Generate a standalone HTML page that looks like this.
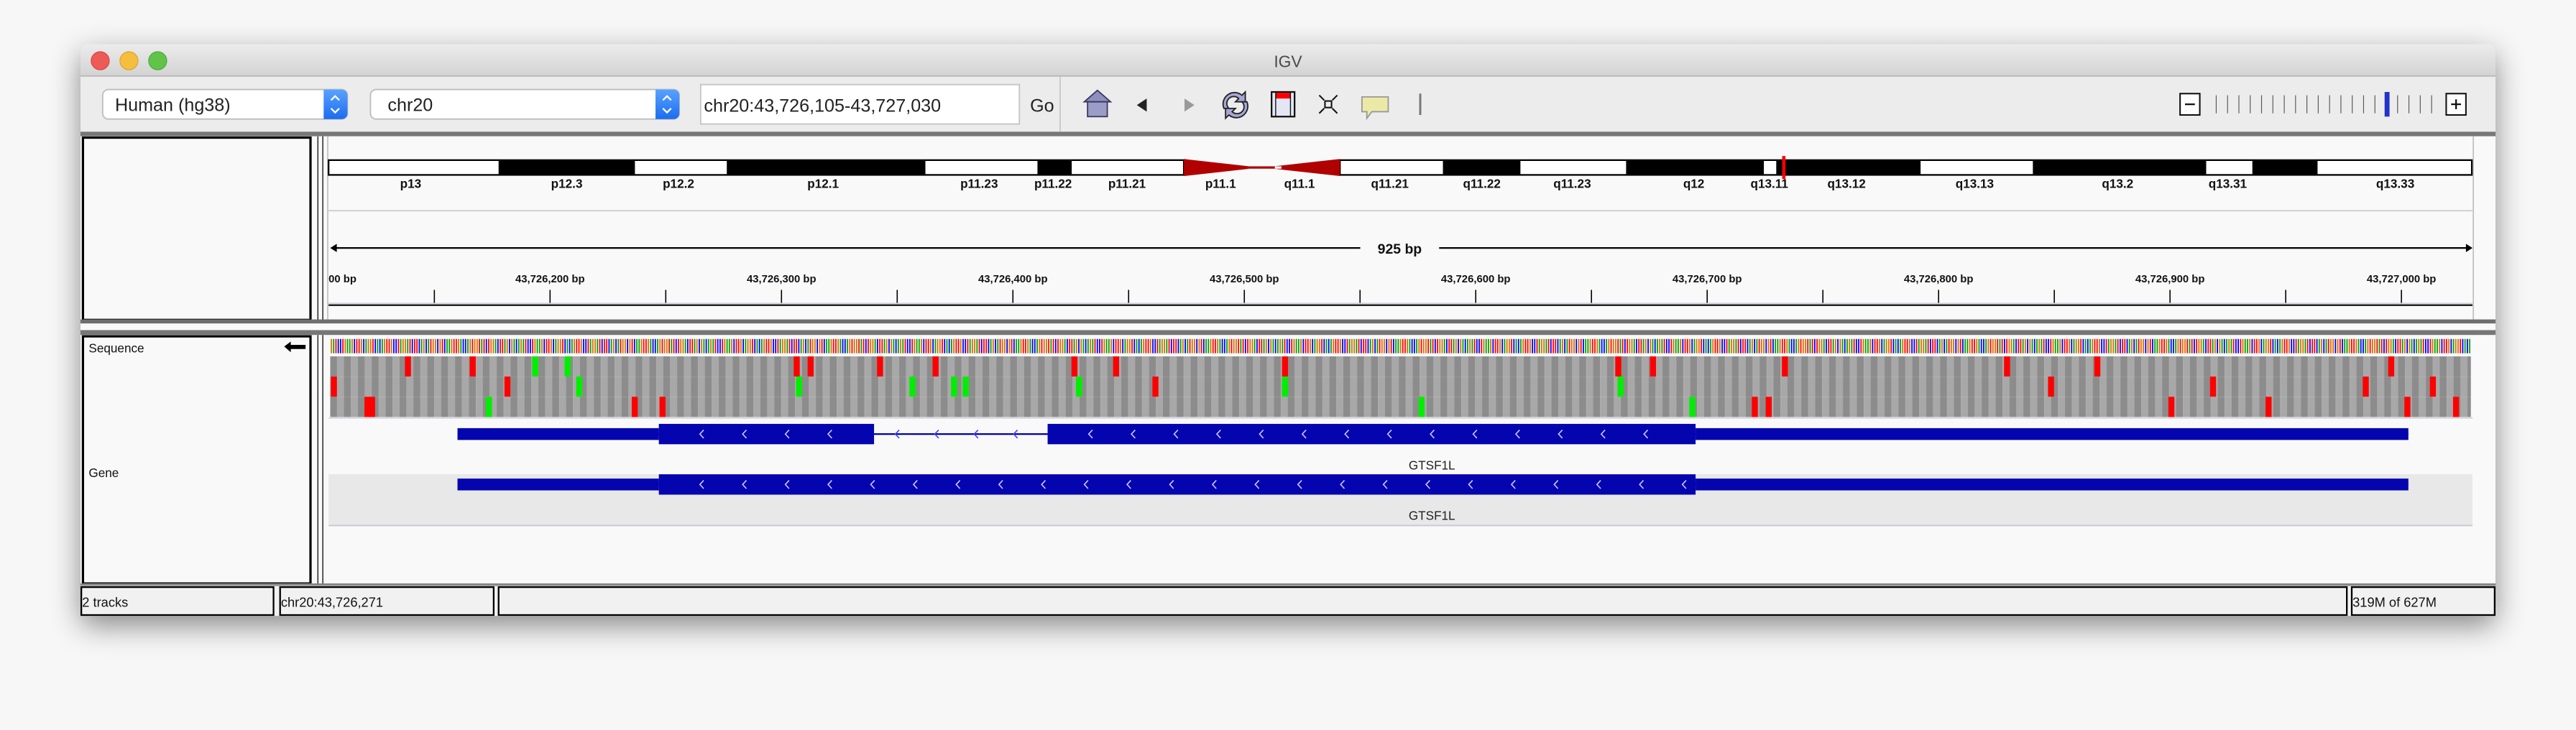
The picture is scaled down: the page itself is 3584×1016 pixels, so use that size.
<!DOCTYPE html>
<html><head><meta charset="utf-8"><style>
html,body{margin:0;padding:0;background:#f7f7f7;overflow:hidden}
svg{display:block}
text{font-family:"Liberation Sans",sans-serif}
</style></head><body>
<svg id="root" width="3584" height="1016" viewBox="0 0 1568 444.5" preserveAspectRatio="none" xmlns="http://www.w3.org/2000/svg">
<defs>
<filter id="sh" x="-10%" y="-20%" width="120%" height="150%"><feDropShadow dx="0" dy="6" stdDeviation="9" flood-color="#000" flood-opacity="0.45"/></filter>
<linearGradient id="tb" x1="0" y1="0" x2="0" y2="1"><stop offset="0" stop-color="#ececec"/><stop offset="1" stop-color="#d3d3d3"/></linearGradient>
<linearGradient id="bl" x1="0" y1="0" x2="0" y2="1"><stop offset="0" stop-color="#5aa2ff"/><stop offset="1" stop-color="#1b6df0"/></linearGradient>
<pattern id="stripes" x="201" y="0" width="8.448" height="10" patternUnits="userSpaceOnUse"><rect width="4.224" height="10" fill="#8c8c8c"/><rect x="4.224" width="4.224" height="10" fill="#a8a8a8"/></pattern>
</defs>
<rect x="49" y="27" width="1470" height="348" rx="5" fill="#ececec" filter="url(#sh)"/>
<g>
<path d="M49 46 V32 a5 5 0 0 1 5 -5 H1514 a5 5 0 0 1 5 5 V46 Z" fill="url(#tb)"/>
<line x1="49" y1="46.3" x2="1519" y2="46.3" stroke="#b4b4b4" stroke-width="0.8"/>
<circle cx="61" cy="37" r="5.5" fill="#ee5b56" stroke="#d8463f" stroke-width="0.5"/>
<circle cx="78.5" cy="37" r="5.5" fill="#f5be3e" stroke="#dca12f" stroke-width="0.5"/>
<circle cx="96" cy="37" r="5.5" fill="#60c449" stroke="#4ba93a" stroke-width="0.5"/>
<text x="784" y="41" font-size="10" fill="#4a4a4a" text-anchor="middle">IGV</text>
</g>
<g>
<rect x="49" y="46.7" width="1470" height="33.5" fill="#ececec"/>
<g>
<rect x="62.5" y="54.5" width="149" height="18" rx="3.5" fill="#fff" stroke="#bdbdbd" stroke-width="0.8"/>
<path d="M197 54.5 h11 a3.5 3.5 0 0 1 3.5 3.5 v11 a3.5 3.5 0 0 1 -3.5 3.5 h-11 Z" fill="url(#bl)"/>
<path d="M201.5 61 l2.5 -2.5 l2.5 2.5 M201.5 66 l2.5 2.5 l2.5 -2.5" fill="none" stroke="#fff" stroke-width="1"/>
<text x="70" y="67.5" font-size="11" fill="#222">Human (hg38)</text></g>
<g>
<rect x="225.5" y="54.5" width="188" height="18" rx="3.5" fill="#fff" stroke="#bdbdbd" stroke-width="0.8"/>
<path d="M399 54.5 h11 a3.5 3.5 0 0 1 3.5 3.5 v11 a3.5 3.5 0 0 1 -3.5 3.5 h-11 Z" fill="url(#bl)"/>
<path d="M403.5 61 l2.5 -2.5 l2.5 2.5 M403.5 66 l2.5 2.5 l2.5 -2.5" fill="none" stroke="#fff" stroke-width="1"/>
<text x="236" y="67.5" font-size="11" fill="#222">chr20</text></g>
<g>
<rect x="426.5" y="51.5" width="194" height="24" fill="#fff" stroke="#c4c4c4" stroke-width="0.8"/>
<text x="428.5" y="68" font-size="11" fill="#222">chr20:43,726,105-43,727,030</text></g>
<text x="627" y="68" font-size="11" fill="#222">Go</text>
<line x1="645.3" y1="46.7" x2="645.3" y2="80" stroke="#c8c8c8" stroke-width="0.8"/>
<g><path d="M660 62 L668 55 L676 62 Z" fill="#8f8fbf" stroke="#3a3a5e" stroke-width="0.8"/><rect x="662" y="62" width="12" height="9" fill="#9c9cc8" stroke="#3a3a5e" stroke-width="0.8"/></g>
<path d="M692 64 l6 -4 v8 Z" fill="#222"/>
<path d="M727 64 l-6 -4 v8 Z" fill="#999"/>
<g><path d="M745 66 a7 7 0 0 1 11 -8 l2 -2 v6 h-6 l2 -2 a4 4 0 0 0 -6 6 Z M759 62 a7 7 0 0 1 -11 8 l-2 2 v-6 h6 l-2 2 a4 4 0 0 0 6 -6 Z" fill="#a6a6d8" stroke="#222" stroke-width="0.8"/></g>
<g><rect x="774" y="56" width="14" height="15" fill="#e4e6f6" stroke="#111" stroke-width="1"/><rect x="776.5" y="56.5" width="9" height="3.5" fill="#f00"/><line x1="776.5" y1="56" x2="776.5" y2="71" stroke="#111" stroke-width="0.6"/><line x1="785.5" y1="56" x2="785.5" y2="71" stroke="#111" stroke-width="0.6"/></g>
<g stroke="#111" stroke-width="0.9" fill="none"><rect x="806.5" y="61.5" width="4" height="4"/><path d="M803 58 l3 3 M814 58 l-3 3 M803 69 l3 -3 M814 69 l-3 -3"/></g>
<path d="M829 59 h16 v9 h-10 l-3 4 v-4 h-3 Z" fill="#ece9a6" stroke="#999" stroke-width="0.8"/>
<line x1="864.5" y1="57" x2="864.5" y2="70" stroke="#777" stroke-width="1.3"/>
<g id="zoomw">
<rect x="1327" y="57" width="12" height="13" fill="#fff" stroke="#111" stroke-width="0.9"/><line x1="1330" y1="63.5" x2="1336" y2="63.5" stroke="#111"/>
<rect x="1489" y="57" width="12" height="13" fill="#fff" stroke="#111" stroke-width="0.9"/><path d="M1492 63.5 h6 M1495 60.5 v6" stroke="#111"/>
</g>
</g>
<rect x="49" y="80.2" width="1470" height="2.8" fill="#777"/>
<rect x="49" y="83" width="1470" height="112" fill="#f9f9f9"/>
<rect x="50.5" y="83.8" width="138.5" height="111" fill="#f9f9f9" stroke="#000" stroke-width="1.4"/>
<line x1="193.5" y1="83" x2="193.5" y2="195" stroke="#333" stroke-width="0.7"/>
<line x1="196.5" y1="83" x2="196.5" y2="195" stroke="#333" stroke-width="0.7"/>
<line x1="199.5" y1="83" x2="199.5" y2="195" stroke="#bbb" stroke-width="0.7"/>
<line x1="1505.5" y1="83" x2="1505.5" y2="356" stroke="#bbb" stroke-width="0.7"/>
<g id="ideo"></g>
<line x1="200" y1="128.3" x2="1505" y2="128.3" stroke="#c9c9d2" stroke-width="0.8"/>
<g id="ruler"></g>
<line x1="200" y1="184.7" x2="1505" y2="184.7" stroke="#c9c9d2" stroke-width="0.6"/>
<line x1="200" y1="185.8" x2="1505" y2="185.8" stroke="#000" stroke-width="0.9"/>
<rect x="49" y="194.5" width="1470" height="2.5" fill="#6f6f6f"/>
<rect x="49" y="197" width="1470" height="4" fill="#fafafa"/>
<rect x="49" y="201" width="1470" height="3" fill="#777"/>
<rect x="49" y="204" width="1470" height="152" fill="#f9f9f9"/>
<rect x="50.5" y="204.8" width="138.5" height="150.5" fill="#f9f9f9" stroke="#000" stroke-width="1.4"/>
<line x1="193.5" y1="204" x2="193.5" y2="356" stroke="#333" stroke-width="0.7"/>
<line x1="196.5" y1="204" x2="196.5" y2="356" stroke="#333" stroke-width="0.7"/>
<text x="54" y="214.5" font-size="7.5" fill="#111">Sequence</text>
<path d="M173 211 l4 -3 v2 h9 v2.5 h-9 v2 Z" fill="#000"/>
<text x="54" y="290.5" font-size="7.5" fill="#111">Gene</text>
<rect x="200" y="288.7" width="1305" height="31" fill="#e8e8e8"/>
<line x1="200" y1="320" x2="1505" y2="320" stroke="#c9c9d6" stroke-width="0.8"/>
<line x1="200" y1="254.5" x2="1505" y2="254.5" stroke="#d2d2da" stroke-width="0.8"/>
<g id="seq"></g>
<g id="rows"></g>
<g id="genes"></g>
<rect x="49" y="355.2" width="1470" height="1.6" fill="#888"/>
<g>
<rect x="49" y="356.8" width="1470" height="18" fill="#f1f1f1"/>
<rect x="49.5" y="357.5" width="117" height="17" fill="#f1f1f1" stroke="#000" stroke-width="1"/>
<rect x="170.5" y="357.5" width="130" height="17" fill="#f1f1f1" stroke="#000" stroke-width="1"/>
<rect x="303.5" y="357.5" width="1125" height="17" fill="#f1f1f1" stroke="#000" stroke-width="1"/>
<rect x="1431.5" y="357.5" width="87" height="17" fill="#f1f1f1" stroke="#000" stroke-width="1"/>
<text x="50" y="369.5" font-size="8" fill="#111">2 tracks</text>
<text x="171" y="369.5" font-size="8" fill="#111">chr20:43,726,271</text>
<text x="1432" y="369.5" font-size="8" fill="#111">319M of 627M</text>
</g>
</svg>
<script>
const START = 43726105, END = 43727030;
const bandStarts = [200,303.5,386.5,442.4,563.3,631.5,652.4,815.6,878.3,925.5,989.8,1073.7,1081.2,1169.1,1237.4,1342.9,1371,1410.7];
const bandEnds   = [303.5,386.5,442.4,563.3,631.5,652.4,720.6,878.3,925.5,989.8,1073.7,1081.2,1169.1,1237.4,1342.9,1371,1410.7,1504.6];
const bandStain  = [0,1,0,1,0,1,0,0,1,0,1,0,1,0,1,0,1,0];
const bandLabels = ["p13","p12.3","p12.2","p12.1","p11.23","p11.22","p11.21","p11.1","q11.1","q11.21","q11.22","q11.23","q12","q13.11","q13.12","q13.13","q13.2","q13.31","q13.33"];
const bandLabelX = [250,345,413,501,596,641,686,743,791,846,902,957,1031,1077,1124,1202,1289,1356,1458];
const tickLabels = ["43,726,200 bp","43,726,300 bp","43,726,400 bp","43,726,500 bp","43,726,600 bp","43,726,700 bp","43,726,800 bp","43,726,900 bp","43,727,000 bp"];
const tickPositions = [43726150,43726200,43726250,43726300,43726350,43726400,43726450,43726500,43726550,43726600,43726650,43726700,43726750,43726800,43726850,43726900,43726950,43727000];
const seqUnit = "GATCCTGAAGCTTGCAGGTCACAGTTGCCTAGGATCTTCAGCATGGCGTCAAGTTGACCAGTGGTATCTGGACTTAGCGACA";
const row1Off = [33,61,88,102,201,207,237,261,321,339,412,556,571,628,724,763,890];
const row1Col = ["r","r","g","g","r","r","r","r","r","r","r","r","r","r","r","r","r"];
const row2Off = [1,76,107,202,251,269,274,323,356,412,557,743,813,879,908];
const row2Col = ["r","r","g","g","g","g","g","g","r","g","g","r","r","r","r"];
const row3Off = [15.5,17.5,68,131,143,471,588,615,621,795,837,897,918];
const row3Col = ["r","r","g","r","r","g","g","r","r","r","r","r","r"];
const geneTxStart = [55,55], geneThickStart = [142,142], geneThickEnd=[590,590], geneTxEnd=[898,898];
const geneExonStarts = [[142,310],[142]], geneExonEnds = [[235,590],[590]];
const geneNames = ["GTSF1L","GTSF1L"];
const X0=201, X1=1504;
const px = (END-START)>0 ? (X1-X0)/(END-START) : 1;
const xo = off => X0 + off*px;
const xp = pos => X0 + (pos-START)*px;
const NS="http://www.w3.org/2000/svg";
function mk(parent,tag,attrs){const e=document.createElementNS(NS,tag);for(const k in attrs)e.setAttribute(k,attrs[k]);parent.appendChild(e);return e;}
const ideo=document.getElementById('ideo');
for(let i=0;i<bandStarts.length;i++){
  const r=mk(ideo,'rect',{x:bandStarts[i],y:97.5,width:bandEnds[i]-bandStarts[i],height:9,fill:bandStain[i]?'#000':'#fff'});
  
  
}
mk(ideo,'rect',{x:200,y:97.5,width:520.6,height:9,fill:'none',stroke:'#000','stroke-width':1});
mk(ideo,'rect',{x:815.6,y:97.5,width:689,height:9,fill:'none',stroke:'#000','stroke-width':1});
const cen=mk(ideo,'path',{d:'M720.6 96.8 L760 101.2 L760 102.8 L720.6 107.2 Z M815.6 96.8 L776 101.2 L776 102.8 L815.6 107.2 Z M755 101.3 h25 v1.4 h-25 Z',fill:'#b00000'});


const cur=mk(ideo,'rect',{x:1084.8,y:95,width:2,height:14,fill:'#f00'});


for(let i=0;i<bandLabels.length;i++){
  const t=mk(ideo,'text',{x:bandLabelX[i],y:114.5,'font-size':7.5,'font-weight':'bold','text-anchor':'middle',fill:'#111'});
  t.textContent=bandLabels[i];
  
  
}
const ru=document.getElementById('ruler');
mk(ru,'line',{x1:203,y1:151,x2:828,y2:151,stroke:'#000','stroke-width':1});
mk(ru,'line',{x1:876,y1:151,x2:1502,y2:151,stroke:'#000','stroke-width':1});
mk(ru,'path',{d:'M201 151 l4 -2.5 v5 Z M1505 151 l-4 -2.5 v5 Z',fill:'#000'});
const span=mk(ru,'text',{x:852,y:154.5,'font-size':8.5,'font-weight':'bold','text-anchor':'middle',fill:'#111'});
span.textContent=(END-START)+" bp";


const lt=mk(ru,'text',{x:200,y:172,'font-size':6.5,'font-weight':'bold',fill:'#111'});
lt.textContent="00 bp";
for(let i=0;i<tickPositions.length;i++){
  const x=xp(tickPositions[i]);
  const l=mk(ru,'line',{x1:x,y1:176.5,x2:x,y2:184.5,stroke:'#000','stroke-width':0.7});
  
  
}
for(let i=0;i<tickLabels.length;i++){
  const x=xp(43726200+i*100);
  const t=mk(ru,'text',{x:x,y:172,'font-size':6.5,'font-weight':'bold','text-anchor':'middle',fill:'#111'});
  t.textContent=tickLabels[i];
  
  
}
const zw=document.getElementById('zoomw');
for(let i=0;i<20;i++){const x=1349+i*6.9;mk(zw,'line',{x1:x,y1:58,x2:x,y2:69,stroke:'#555','stroke-width':0.5});}
mk(zw,'rect',{x:1451.5,y:56,width:3,height:15,fill:'#2233cc'});
const seq=document.getElementById('seq');
const colors={A:'#00a000',C:'#0000ff',G:'#d17105',T:'#ff0000'};
const n=END-START;
for(let i=0;i<n;i++){
  const b=seqUnit[i%seqUnit.length];
  mk(seq,'rect',{x:xo(i)+0.3,y:206.4,width:px*0.55,height:8.7,fill:colors[b]});
}
const rows=document.getElementById('rows');
const rowY=[217,229.3,241.6];
const offs=[row1Off,row2Off,row3Off], cols=[row1Col,row2Col,row3Col];
for(let r=0;r<3;r++){
  const bg=mk(rows,'rect',{x:201,y:rowY[r],width:1303,height:12.3,fill:'url(#stripes)'});
  
  
  for(let i=0;i<offs[r].length;i++){
    const m=mk(rows,'rect',{x:xo(offs[r][i])-1,y:rowY[r],width:px*2.6,height:12.3,fill:cols[r][i]==='r'?'#ff0000':'#00ee00'});
    
    
  }
}
const gg=document.getElementById('genes');
const gY=[264.3,295];
for(let g=0;g<2;g++){
  const y=gY[g];
  const gene=mk(gg,'g',{});
  
  
  mk(gene,'line',{x1:xo(geneTxStart[g]),y1:y,x2:xo(geneTxEnd[g]),y2:y,stroke:'#0000b8','stroke-width':1});
  mk(gene,'rect',{x:xo(geneTxStart[g]),y:y-3.6,width:xo(geneThickStart[g])-xo(geneTxStart[g]),height:7.2,fill:'#0505b0'});
  mk(gene,'rect',{x:xo(geneThickEnd[g]),y:y-3.6,width:xo(geneTxEnd[g])-xo(geneThickEnd[g]),height:7.2,fill:'#0505b0'});
  for(let e=0;e<geneExonStarts[g].length;e++){
    const a=xo(geneExonStarts[g][e]), b=xo(geneExonEnds[g][e]);
    mk(gene,'rect',{x:a,y:y-6.2,width:b-a,height:12.4,fill:'#0505b0'});
    for(let cx=a+26;cx<b-6;cx+=26){
      mk(gene,'path',{d:`M${cx+1.3} ${y-2.5} L${cx-1} ${y} L${cx+1.3} ${y+2.5}`,stroke:'#c8c8ff','stroke-width':0.7,fill:'none'});
    }
  }
  if(g===0){
    const a=xo(geneExonEnds[0][0]), b=xo(geneExonStarts[0][1]);
    for(let cx=a+14;cx<b-4;cx+=24){
      mk(gene,'path',{d:`M${cx+1.3} ${y-2.5} L${cx-1} ${y} L${cx+1.3} ${y+2.5}`,stroke:'#4040ff','stroke-width':0.7,fill:'none'});
    }
  }
  const t=mk(gg,'text',{x:871.6,y:y+21.5,'font-size':7.5,'text-anchor':'middle',fill:'#222'});
  t.textContent=geneNames[g];
  
  
}
</script>
</body></html>
